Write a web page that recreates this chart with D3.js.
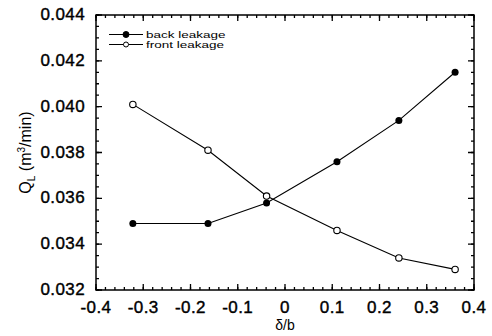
<!DOCTYPE html>
<html>
<head>
<meta charset="utf-8">
<script src="https://cdn.jsdelivr.net/npm/d3@7"></script>
<style>
  body { margin: 0; background: #fff; }
  text { font-family: "Liberation Sans", Arial, sans-serif; fill: #000; }
</style>
</head>
<body>
<div id="chart"></div>
<script>
// data
var xBack  = [-0.322, -0.163, -0.039, 0.110, 0.241, 0.360];
var qBack  = [0.0349, 0.0349, 0.0358, 0.0376, 0.0394, 0.0415];
var xFront = [-0.322, -0.163, -0.039, 0.110, 0.241, 0.360];
var qFront = [0.0401, 0.0381, 0.0361, 0.0346, 0.0334, 0.0329];
var xTicks = [-0.4, -0.3, -0.2, -0.1, 0, 0.1, 0.2, 0.3, 0.4];
var yTicks = [0.032, 0.034, 0.036, 0.038, 0.040, 0.042, 0.044];
var seriesNames = ["back leakage", "front leakage"];

var W = 492, H = 336;
var margin = {top: 15, right: 18, bottom: 46, left: 96};
var width = W - margin.left - margin.right,
    height = H - margin.top - margin.bottom;

var svg = d3.select("#chart")
    .append("svg")
    .attr("width", W)
    .attr("height", H)
    .append("g")
    .attr("transform", "translate(" + margin.left + "," + margin.top + ")");

var x = d3.scaleLinear().domain([-0.4, 0.4]).range([0, width]);
var y = d3.scaleLinear().domain([0.032, 0.044]).range([height, 0]);

// minor tick positions
var xMinor = d3.range(0, 41).map(i => -0.4 + i * 0.02);
var yMinor = d3.range(0, 25).map(i => 0.032 + i * 0.0005);

// frame
svg.append("path")
    .attr("d", "M0,0H" + width + "V" + height + "H0Z")
    .attr("fill", "none")
    .attr("stroke", "#000")
    .attr("stroke-width", 1.5);

// inward ticks on all four sides, drawn after the frame
var ticks = svg.append("g");
function tickPath(vals, len) {
    var p = d3.path();
    vals.forEach(function(d) {
        var px = x(d);
        p.moveTo(px, height); p.lineTo(px, height - len);
        p.moveTo(px, 0); p.lineTo(px, len);
    });
    return p.toString();
}
function yTickPath(vals, len) {
    var p = d3.path();
    vals.forEach(function(d) {
        var py = y(d);
        p.moveTo(0, py); p.lineTo(len, py);
        p.moveTo(width, py); p.lineTo(width - len, py);
    });
    return p.toString();
}
[[tickPath, xMinor, 3], [tickPath, xTicks, 6], [yTickPath, yMinor, 3], [yTickPath, yTicks, 6]]
    .forEach(function(t) {
        ticks.append("path")
            .attr("d", t[0](t[1], t[2]))
            .attr("fill", "none")
            .attr("stroke", "#000")
            .attr("stroke-width", 1.3);
    });

// tick labels
svg.append("g").selectAll("text")
    .data(xTicks)
    .join("text")
    .attr("x", d => x(d))
    .attr("y", height + 23)
    .attr("text-anchor", "middle")
    .style("font-size", "17px")
    .style("letter-spacing", "0.4px")
    .style("stroke", "#000")
    .style("stroke-width", "0.4px")
    .text(d => String(d));

svg.append("g").selectAll("text")
    .data(yTicks)
    .join("text")
    .attr("x", -11)
    .attr("y", d => y(d) + 5)
    .attr("text-anchor", "end")
    .style("font-size", "17px")
    .style("letter-spacing", "0.4px")
    .style("stroke", "#000")
    .style("stroke-width", "0.4px")
    .text(d => d3.format(".3f")(d));

// axis titles
svg.append("text")
    .attr("x", x(0))
    .attr("y", height + 40)
    .attr("text-anchor", "middle")
    .style("font-size", "14px")
    .text("\u03b4/b");

var yl = svg.append("text")
    .attr("transform", "translate(-65," + (height / 2) + ") rotate(-90)")
    .attr("text-anchor", "middle")
    .style("font-size", "16px");
yl.append("tspan").text("Q");
yl.append("tspan").attr("dy", 4).style("font-size", "10px").text("L");
yl.append("tspan").attr("dy", -4).text(" (m");
yl.append("tspan").attr("dy", -6).style("font-size", "10px").text("3");
yl.append("tspan").attr("dy", 6).text("/min)");

// lines + markers
var line = d3.line().x(d => x(d[0])).y(d => y(d[1]));
var back = xBack.map((v, i) => [v, qBack[i]]);
var front = xFront.map((v, i) => [v, qFront[i]]);

svg.append("path").datum(front)
    .attr("d", line).attr("fill", "none").attr("stroke", "#000").attr("stroke-width", 1.1);
svg.append("path").datum(back)
    .attr("d", line).attr("fill", "none").attr("stroke", "#000").attr("stroke-width", 1.1);

svg.append("g").selectAll("circle")
    .data(front)
    .join("circle")
    .attr("cx", d => x(d[0])).attr("cy", d => y(d[1]))
    .attr("r", 3.2)
    .attr("fill", "#fff").attr("stroke", "#000").attr("stroke-width", 1.1);

svg.append("g").selectAll("circle")
    .data(back)
    .join("circle")
    .attr("cx", d => x(d[0])).attr("cy", d => y(d[1]))
    .attr("r", 3.5)
    .attr("fill", "#000");

// legend
var legend = svg.append("g").attr("transform", "translate(13,19.5)");
seriesNames.forEach(function(name, i) {
    var g = legend.append("g").attr("transform", "translate(0," + (i * 10) + ")");
    g.append("line").attr("x1", 0).attr("x2", 34).attr("y1", 0).attr("y2", 0)
        .attr("stroke", "#000").attr("stroke-width", 1);
    g.append("circle").attr("cx", 17).attr("cy", 0)
        .attr("r", i == 0 ? 3 : 2.5)
        .attr("fill", i == 0 ? "#000" : "#fff")
        .attr("stroke", "#000");
    g.append("text")
        .attr("transform", "translate(37,3.2) scale(1.5,1)")
        .style("font-size", "9px")
        .text(name);
});
</script>
</body>
</html>
